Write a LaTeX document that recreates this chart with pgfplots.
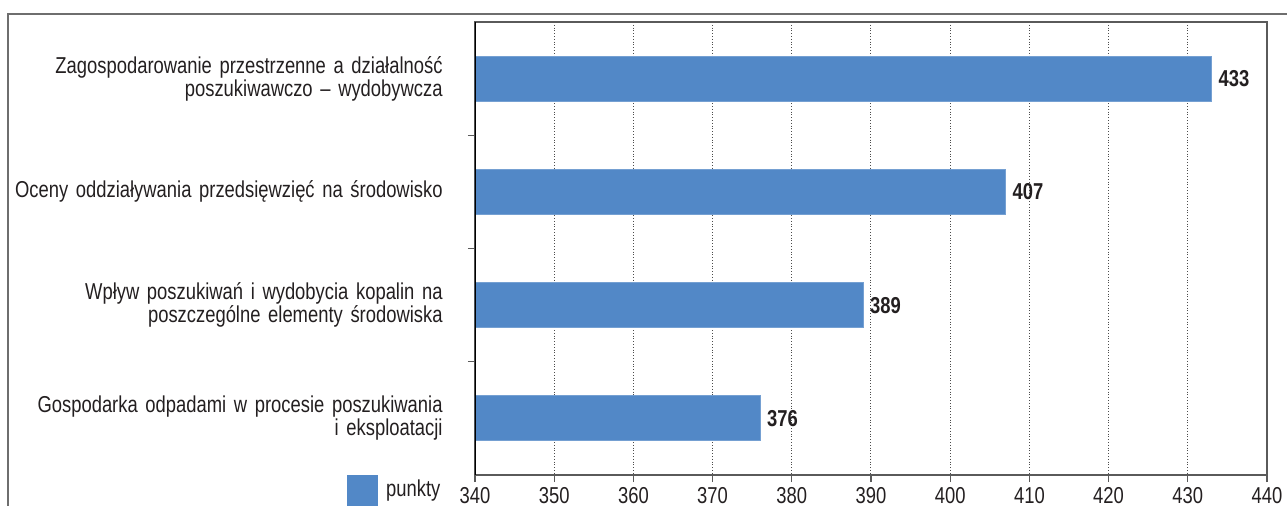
\documentclass[border=0pt]{standalone}
\usepackage{fontspec}
\setmainfont{Liberation Sans}[FakeStretch=0.80]
\usepackage{pgfplots}
\pgfplotsset{compat=1.18}
\definecolor{barblue}{HTML}{5288C7}
\definecolor{txt}{HTML}{231F20}
\definecolor{framegray}{HTML}{6E6E6E}
\definecolor{axgray}{HTML}{5A5A5A}
\begin{document}
\begin{tikzpicture}[x=1pt,y=1pt]
\useasboundingbox (0,0) rectangle (643.5,-253);
\draw[framegray, line width=0.9pt] (4,-270) -- (4,-7) -- (660,-7);
\begin{axis}[
  at={(237.5pt,-237.5pt)}, anchor=south west,
  scale only axis, width=396pt, height=226.5pt,
  xbar, bar width=22.5pt,
  xmin=340, xmax=440, ymin=-0.5, ymax=3.5,
  y dir=reverse,
  xtick={340,350,...,440},
  ytick={0.5,1.5,2.5}, yticklabels={},
  extra y ticks={0,1,2,3},
  extra y tick labels={{Zagospodarowanie przestrzenne a działalność\\poszukiwawczo – wydobywcza},{Oceny oddziaływania przedsięwzięć na środowisko},{Wpływ poszukiwań i wydobycia kopalin na\\poszczególne elementy środowiska},{Gospodarka odpadami w procesie poszukiwania\\i eksploatacji}},
  extra y tick style={major tick length=0pt},
  tick align=outside, major tick length=3.5pt,
  xtick pos=bottom, ytick pos=left,
  tick style={axgray, line width=0.6pt},
  xmajorgrids,
  grid style={densely dotted, black!70, line width=0.5pt},
  axis line style={axgray, line width=0.6pt},
  every tick label/.append style={font=\fontsize{11.5pt}{11.5pt}\selectfont, text=txt},
  xticklabel style={yshift=1pt},
  yticklabel style={align=right, text width=230pt, inner sep=0pt, xshift=-16pt},
  /pgf/number format/assume math mode=true,
  nodes near coords,
  every node near coord/.append style={font=\fontsize{11.5pt}{12pt}\selectfont\bfseries, text=txt},
  legend style={at={(-0.1616,-0.033)}, anchor=west, draw=none, fill=none, inner sep=0pt, font=\fontsize{11.5pt}{12pt}\selectfont, text=txt},
  legend image code/.code={\fill[barblue] (0pt,-7.5pt) rectangle (15pt,7.5pt);},
]
\addplot[fill=barblue, draw=barblue!80!white, line width=0.4pt] coordinates {(433,0) (407,1) (389,2) (376,3)};
\addlegendentry{\hspace{2pt}punkty}
\draw[black, line width=0.7pt] (rel axis cs:0,0) -- (rel axis cs:0,1);
\end{axis}
\end{tikzpicture}
\end{document}
